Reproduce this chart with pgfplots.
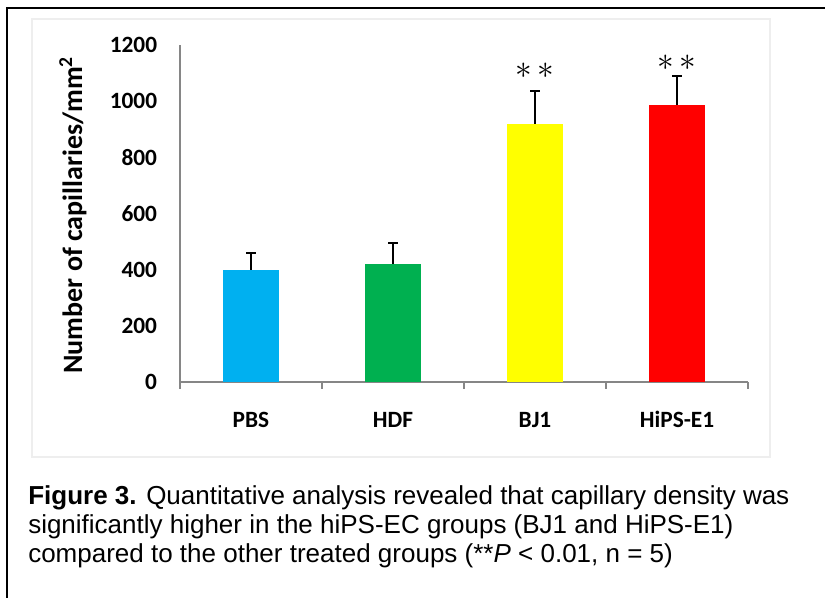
\documentclass[border=0pt]{standalone}
\usepackage{pgfplots}
\pgfplotsset{compat=1.18}
\usepackage{fontspec}
\setmainfont{Liberation Sans}
\newfontfamily\carlito{Carlito}

\definecolor{pbsblue}{HTML}{00B0F0}
\definecolor{hdfgreen}{HTML}{00B050}
\definecolor{bjyellow}{HTML}{FFFF00}
\definecolor{hipsred}{HTML}{FF0000}
\definecolor{axisgray}{HTML}{868686}
\definecolor{framegray}{HTML}{EEEEEE}

\pgfplotsset{
  errbar/.style={
    error bars/.cd, y dir=plus, y explicit,
    error bar style={black, line width=1.5pt},
    error mark options={black, rotate=90, line width=1.5pt, mark size=3.4pt}
  }
}

\begin{document}
\begin{tikzpicture}
\begin{scope}[x=0.75pt, y=0.75pt]
\path[use as bounding box] (0,0) rectangle (825,598);
\fill[white] (0,0) rectangle (825,598);
% outer frame (only top and left visible) and light chart frame
\draw[line width=1.6pt] (7,-5) -- (7,590) -- (830,590);
\draw[framegray, line width=0.8pt] (32,141) rectangle (770,579);
\end{scope}

\begin{axis}[
  at={(135pt,162pt)}, anchor=south west,
  scale only axis, width=426pt, height=252.75pt,
  xmin=-0.5, xmax=3.5, ymin=0, ymax=1200,
  axis lines=left,
  axis line style={-, draw=axisgray, line width=1.5pt},
  xtick={0,1,2,3}, xticklabels={PBS,HDF,BJ1,HiPS-E1},
  minor xtick={-0.5,0.5,1.5,2.5,3.5},
  ytick={0,200,...,1200},
  major tick length=0pt, minor tick length=5pt, tick align=outside,
  minor tick style={draw=axisgray, line width=1.5pt},
  ticklabel style={font=\carlito\bfseries\fontsize{17.5}{20}\selectfont},
  /pgf/number format/assume math mode=true,
  /pgf/number format/1000 sep={},
  yticklabel style={inner sep=0pt, xshift=-17pt},
  xticklabel style={anchor=base, inner sep=0pt, yshift=-34pt},
  clip=false,
]
\addplot[ybar, bar width=0.4, bar shift=0pt, fill=pbsblue, draw=none, errbar]
  coordinates {(0,400) +- (0,60)};
\addplot[ybar, bar width=0.4, bar shift=0pt, fill=hdfgreen, draw=none, errbar]
  coordinates {(1,420) +- (0,75)};
\addplot[ybar, bar width=0.4, bar shift=0pt, fill=bjyellow, draw=none, errbar]
  coordinates {(2,920) +- (0,115)};
\addplot[ybar, bar width=0.4, bar shift=0pt, fill=hipsred, draw=none, errbar]
  coordinates {(3,988) +- (0,100)};
\node[font=\fontsize{29}{30}\selectfont, inner sep=0pt] at (axis cs:2,1108) {$\ast\,\ast$};
\node[font=\fontsize{29}{30}\selectfont, inner sep=0pt] at (axis cs:3,1136) {$\ast\,\ast$};
\end{axis}

\begin{scope}[x=0.75pt, y=0.75pt]
\node[rotate=90, font=\carlito\bfseries\fontsize{21}{22}\selectfont]
  at (73,383) {Number of capillaries/mm\textsuperscript{2}};

\begin{scope}[every node/.style={anchor=base west, inner sep=0pt,
    font=\fontsize{19.5}{23}\selectfont}]
\node at (28,93) {\textbf{Figure 3.} Quantitative analysis revealed that capillary density was};
\node at (28,64) {significantly higher in the hiPS-EC groups (BJ1 and HiPS-E1)};
\node at (28,35) {compared to the other treated groups (**\textit{P} < 0.01, n = 5)};
\end{scope}
\end{scope}
\end{tikzpicture}
\end{document}
